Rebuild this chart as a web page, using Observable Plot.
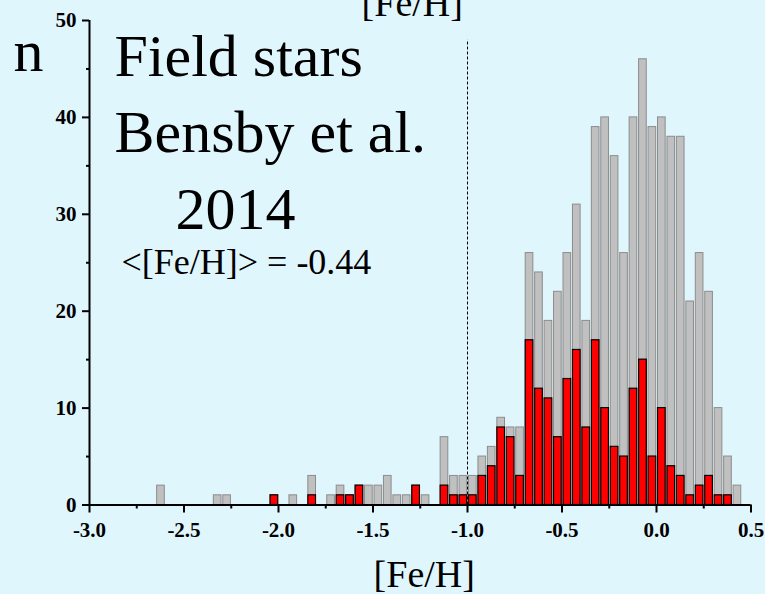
<!DOCTYPE html>
<html>
<head>
<meta charset="utf-8">
<script src="https://cdn.jsdelivr.net/npm/d3@7"></script>
<script src="https://cdn.jsdelivr.net/npm/@observablehq/plot@0.6"></script>
<style>
  html, body { margin: 0; padding: 0; background: #E0F6FD; }
  #chart { width: 765px; height: 594px; overflow: hidden; }
</style>
</head>
<body>
<div id="chart"></div>
<script>
// Bin left edges ([Fe/H]), bin width 0.05
const binLeft = [-2.65, -2.35, -2.30, -2.05, -1.95, -1.85, -1.75, -1.70, -1.65, -1.60, -1.55, -1.50, -1.45, -1.40, -1.35, -1.30, -1.25,
  -1.15, -1.10, -1.05, -1.00, -0.95, -0.90, -0.85, -0.80, -0.75, -0.70, -0.65, -0.60, -0.55, -0.50, -0.45, -0.40, -0.35,
  -0.30, -0.25, -0.20, -0.15, -0.10, -0.05, 0.00, 0.05, 0.10, 0.15, 0.20, 0.25, 0.30, 0.35, 0.40];
const binWidth = 0.05;
// All field stars (grey)
const greyCounts = [2, 1, 1, 1, 1, 3, 1, 2, 1, 2, 2, 2, 3, 1, 1, 2, 1,
  7, 3, 3, 3, 5, 6, 9, 8, 8, 26, 24, 19, 22, 26, 31, 19, 39,
  40, 36, 26, 40, 46, 39, 40, 38, 38, 21, 26, 22, 10, 5, 2];
// Subsample (red)
const redCounts = [0, 0, 0, 1, 0, 1, 0, 1, 1, 2, 0, 0, 0, 0, 0, 2, 0,
  2, 1, 1, 1, 3, 4, 8, 7, 3, 17, 12, 11, 7, 13, 16, 8, 17,
  10, 6, 5, 12, 15, 5, 10, 4, 3, 1, 2, 3, 1, 1, 0];

const xDomain = [-3.0, 0.5];
const yDomain = [0, 50];
const xMajorTicks = [-3.0, -2.5, -2.0, -1.5, -1.0, -0.5, 0.0, 0.5];
const xMinorTicks = [-2.75, -2.25, -1.75, -1.25, -0.75, -0.25, 0.25];
const yMajorTicks = [0, 10, 20, 30, 40, 50];
const yMinorTicks = [5, 15, 25, 35, 45];
const refLineX = [-1.0];
const refLineTop = 48;

const xLabel = ["[Fe/H]"];
const yLabel = ["n"];
const annot1 = ["Field stars"];
const annot2 = ["Bensby et al."];
const annot3 = ["2014"];
const annot4 = ["<[Fe/H]> = -0.44"];

const greyData = binLeft.map((x, i) => ({x1: x, x2: x + binWidth, n: greyCounts[i]}));
const redData = binLeft.map((x, i) => ({x1: x, x2: x + binWidth, n: redCounts[i]})).filter(d => d.n > 0);

const serif = "'Liberation Serif', 'Times New Roman', serif";

const chart = Plot.plot({
  width: 765,
  height: 594,
  marginLeft: 89,
  marginRight: 14.5,
  marginTop: 20,
  marginBottom: 89.5,
  style: {background: "transparent", fontFamily: serif, color: "black", overflow: "visible"},
  x: {domain: xDomain},
  y: {domain: yDomain},
  marks: [
    Plot.rectY(greyData, {x1: "x1", x2: "x2", y1: 0, y2: "n", fill: "#C0C0C0", stroke: "#8C8C8C", strokeWidth: 1, insetLeft: 1.5, insetRight: 0.3}),
    Plot.rectY(redData, {x1: "x1", x2: "x2", y1: 0, y2: "n", fill: "#FF0000", stroke: "#000000", strokeWidth: 1.2, insetLeft: 1.5, insetRight: 0.3}),
    Plot.ruleX(refLineX, {y1: 0, y2: refLineTop, stroke: "black", strokeWidth: 1, strokeDasharray: "3,2"}),
    Plot.ruleY([yDomain[0]], {stroke: "black", strokeWidth: 2}),
    Plot.ruleX([xDomain[0]], {stroke: "black", strokeWidth: 2}),
    Plot.axisX({ticks: xMajorTicks, tickFormat: d => d.toFixed(1), tickSize: 8, tickPadding: 9, fontSize: 21, fontWeight: "bold", strokeWidth: 2, label: null}),
    Plot.axisX({ticks: xMinorTicks, tickFormat: () => "", tickSize: 4, strokeWidth: 2, label: null}),
    Plot.axisY({ticks: yMajorTicks, tickSize: 7, tickPadding: 6, fontSize: 21, fontWeight: "bold", strokeWidth: 2, label: null}),
    Plot.axisY({ticks: yMinorTicks, tickFormat: () => "", tickSize: 3, strokeWidth: 2, label: null}),
    Plot.text(yLabel, {text: d => d, frameAnchor: "top-left", textAnchor: "start", lineAnchor: "bottom", dx: -76, dy: 50, fontSize: 60, fill: "black"}),
    Plot.text(annot1, {text: d => d, frameAnchor: "top-left", textAnchor: "start", lineAnchor: "bottom", dx: 25, dy: 55, fontSize: 60, fill: "black"}),
    Plot.text(annot2, {text: d => d, frameAnchor: "top-left", textAnchor: "start", lineAnchor: "bottom", dx: 25, dy: 131, fontSize: 60, fill: "black"}),
    Plot.text(annot3, {text: d => d, frameAnchor: "top-left", textAnchor: "start", lineAnchor: "bottom", dx: 86, dy: 208, fontSize: 60, fill: "black"}),
    Plot.text(annot4, {text: d => d, frameAnchor: "top-left", textAnchor: "start", lineAnchor: "bottom", dx: 32, dy: 253, fontSize: 36, fill: "black"}),
    Plot.text(xLabel, {text: d => d, frameAnchor: "top", textAnchor: "middle", lineAnchor: "bottom", dx: -8, dy: -5, fontSize: 38, fill: "black"}),
    Plot.text(xLabel, {text: d => d, frameAnchor: "top", textAnchor: "middle", lineAnchor: "bottom", dx: 4, dy: 566, fontSize: 38, fill: "black"})
  ]
});
document.getElementById("chart").appendChild(chart);
</script>
</body>
</html>
